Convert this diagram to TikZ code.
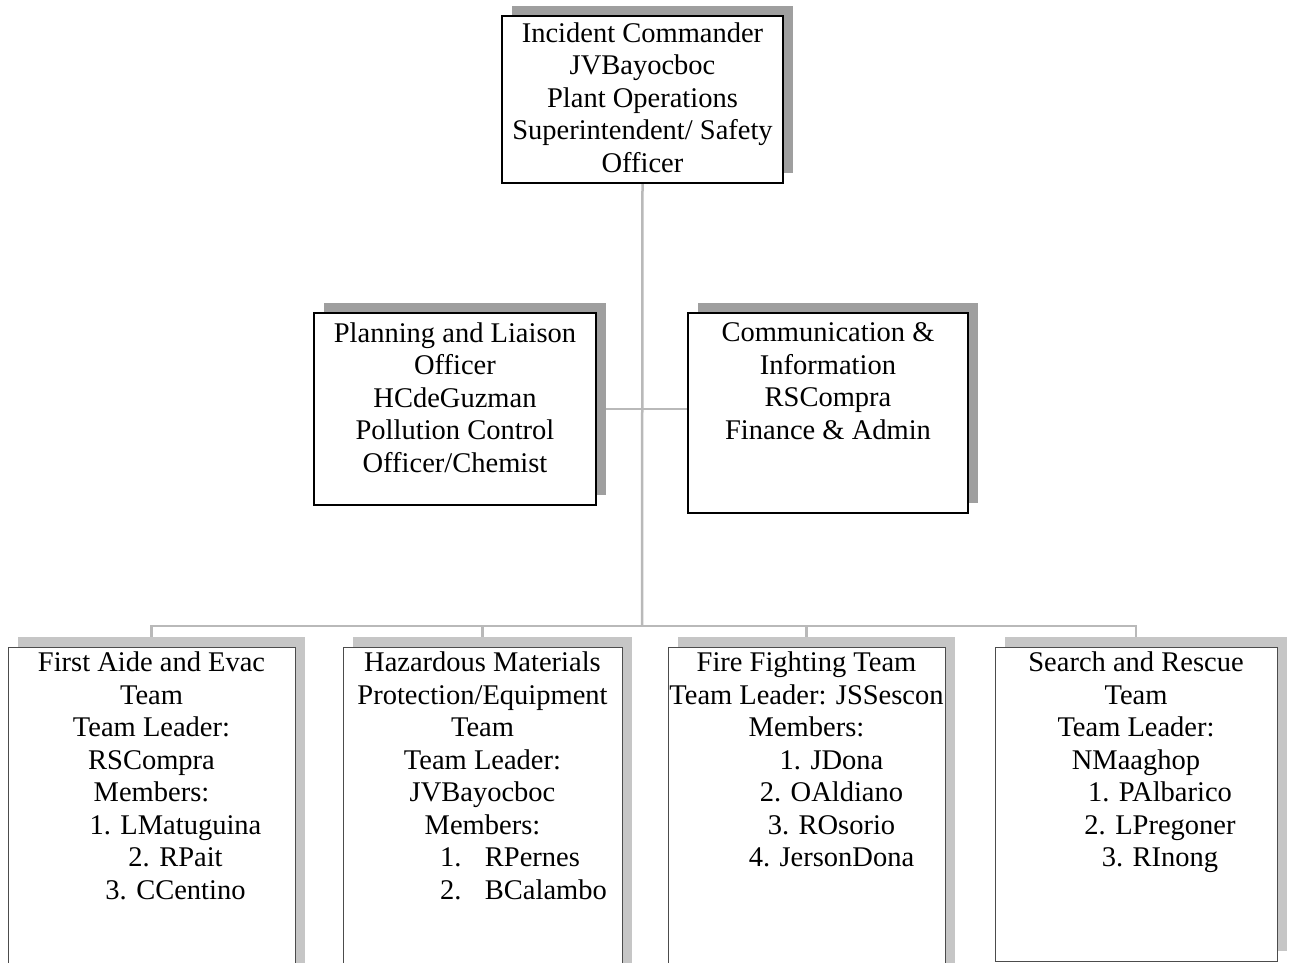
\documentclass[tikz,border=0pt]{standalone}
\usepackage{fontspec}
\setmainfont{Liberation Serif}
\usetikzlibrary{shadows}
\pgfdeclarelayer{bg}
\pgfsetlayers{bg,main}
\begin{document}
\begin{tikzpicture}[x=1pt,y=-1pt,
  orgbox/.style={draw=black, line width=1.1pt, fill=white, inner sep=0pt,
    drop shadow={shadow xshift=10pt, shadow yshift=10pt, fill=gray!75, opacity=1}},
  teambox/.style={draw=gray!60!black, line width=0.8pt, fill=white, inner sep=0pt,
    drop shadow={shadow xshift=10pt, shadow yshift=10pt, fill=gray!45, opacity=1}},
  boxtext/.style={font=\fontsize{28.5}{32.5}\selectfont, align=center, inner sep=0pt, anchor=north},
  link/.style={draw=gray!55, line width=2.5pt}]
\clip (0,0) rectangle (1290,963);

% top
\node[orgbox, minimum width=281pt, minimum height=167pt] (ic) at (642.5,99.5) {};
\node[boxtext] (ict) at ([yshift=-7pt]ic.north)
  {Incident Commander\\JVBayocboc\\Plant Operations\\Superintendent/ Safety\\Officer};

% middle
\node[orgbox, minimum width=282pt, minimum height=192pt] (pl) at (455,409) {};
\node[boxtext] (plt) at ([yshift=-10pt]pl.north)
  {Planning and Liaison\\Officer\\HCdeGuzman\\Pollution Control\\Officer/Chemist};
\node[orgbox, minimum width=280pt, minimum height=200pt] (ci) at (828,413) {};
\node[boxtext] (cit) at ([yshift=-10pt]ci.north)
  {Communication \&\\Information\\RSCompra\\Finance \& Admin};

% bottom
\node[teambox, minimum width=287pt, minimum height=340pt] (b1) at (151.5,817) {};
\node[boxtext] (b1t) at ([yshift=-5pt]b1.north)
  {First Aide and Evac\\Team\\Team Leader:\\RSCompra\\Members:\\
   \hspace*{48pt}1. LMatuguina\\\hspace*{48pt}2. RPait\\\hspace*{48pt}3. CCentino};
\node[teambox, minimum width=279pt, minimum height=340pt] (b2) at (482.5,817) {};
\node[boxtext] (b2t) at ([yshift=-5pt]b2.north)
  {Hazardous Materials\\Protection/Equipment\\Team\\Team Leader:\\JVBayocboc\\Members:\\
   \makebox[85pt][l]{\makebox[45pt][l]{1.}RPernes}\\
   \makebox[85pt][l]{\makebox[45pt][l]{2.}BCalambo}};
\node[teambox, minimum width=277pt, minimum height=340pt] (b3) at (806.5,817) {};
\node[boxtext] (b3t) at ([yshift=-5pt]b3.north)
  {Fire Fighting Team\\Team Leader: JSSescon\\Members:\\
   \hspace*{50pt}1. JDona\\\hspace*{50pt}2. OAldiano\\\hspace*{50pt}3. ROsorio\\\hspace*{50pt}4. JersonDona};
\node[teambox, minimum width=282pt, minimum height=314pt] (b4) at (1136,804) {};
\node[boxtext] (b4t) at ([yshift=-5pt]b4.north)
  {Search and Rescue\\Team\\Team Leader:\\NMaaghop\\
   \hspace*{48pt}1. PAlbarico\\\hspace*{48pt}2. LPregoner\\\hspace*{48pt}3. RInong};

\coordinate (j) at (642,626);
\begin{pgfonlayer}{bg}
  \fill[white] (0,0) rectangle (1290,963);
  \draw[link] (ic.south) -- (j);
  \draw[link] (pl.east) -- (pl.east -| ci.west);
  \draw[link] (j) -| (b1.north);
  \draw[link] (j) -| (b2.north);
  \draw[link] (j) -| (b3.north);
  \draw[link] (j) -| (b4.north);
\end{pgfonlayer}
\end{tikzpicture}
\end{document}
